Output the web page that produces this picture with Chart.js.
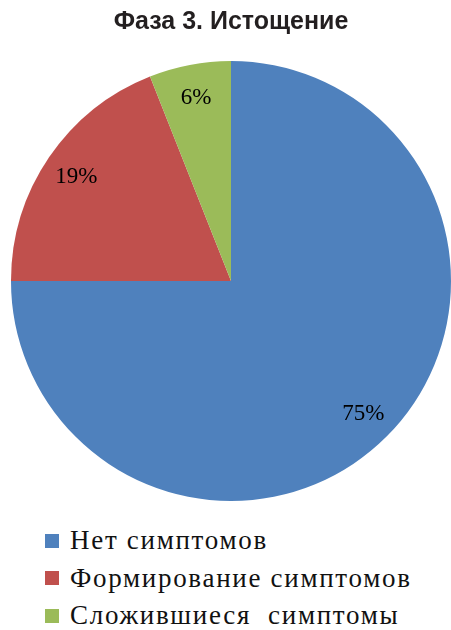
<!DOCTYPE html>
<html>
<head>
<meta charset="utf-8">
<script src="https://cdn.jsdelivr.net/npm/chart.js@4/dist/chart.umd.min.js"></script>
<style>
  html, body { margin: 0; padding: 0; background: #fff; }
  #wrap { position: relative; width: 451px; height: 630px; overflow: hidden; }
  #pie { position: absolute; left: 0; top: 0; }
  #legend { position: absolute; left: 45px; top: 522px; margin: 0; padding: 0; list-style: none; }
  #legend li {
    height: 37.5px; display: flex; align-items: center;
    font-family: "Liberation Serif", "DejaVu Serif", serif;
    font-size: 27px; letter-spacing: 1.7px; color: #111; white-space: pre;
  }
  #legend .box { width: 14px; height: 14px; margin-right: 11px; flex: none; }
</style>
</head>
<body>
<div id="wrap">
  <canvas id="pie" width="451" height="520"></canvas>
  <ul id="legend"></ul>
</div>
<script>
const title = 'Фаза 3. Истощение';
const categories = ['Нет симптомов', 'Формирование симптомов', 'Сложившиеся  симптомы'];
const shares = [75, 19, 6];
const colors = ['#4f81bd', '#c0504d', '#9bbb59'];

// percentage labels placed along each slice's mid-angle
const sliceLabels = {
  id: 'sliceLabels',
  afterDatasetsDraw(chart) {
    const ctx = chart.ctx;
    const meta = chart.getDatasetMeta(0);
    ctx.save();
    ctx.font = '23px "Liberation Serif", "DejaVu Serif", serif';
    ctx.fillStyle = '#000';
    ctx.textAlign = 'center';
    ctx.textBaseline = 'middle';
    meta.data.forEach((arc, i) => {
      const p = arc.getProps(['x', 'y', 'startAngle', 'endAngle', 'outerRadius'], true);
      const mid = (p.startAngle + p.endAngle) / 2;
      const r = p.outerRadius * 0.85;
      ctx.fillText(shares[i] + '%', p.x + Math.cos(mid) * r, p.y + Math.sin(mid) * r + 1);
    });
    ctx.restore();
  }
};

const chart = new Chart(document.getElementById('pie').getContext('2d'), {
  type: 'pie',
  data: {
    labels: categories,
    datasets: [{
      data: shares,
      backgroundColor: colors,
      borderWidth: 0
    }]
  },
  options: {
    responsive: false,
    animation: false,
    layout: { padding: { left: 11, right: 0, top: 0, bottom: 19 } },
    plugins: {
      legend: { display: false },
      tooltip: { enabled: false },
      title: {
        display: true,
        text: title,
        color: '#231f20',
        font: { family: '"Liberation Sans", Arial, sans-serif', size: 25, weight: 'bold', lineHeight: 1.2 },
        padding: { top: 7, bottom: 24 }
      }
    }
  },
  plugins: [sliceLabels]
});

// legend list built from the chart's own legend items
const legendEl = document.getElementById('legend');
chart.options.plugins.legend.labels.generateLabels(chart).forEach(item => {
  const li = document.createElement('li');
  const box = document.createElement('span');
  box.className = 'box';
  box.style.background = item.fillStyle;
  li.appendChild(box);
  li.appendChild(document.createTextNode(item.text));
  legendEl.appendChild(li);
});
</script>
</body>
</html>
